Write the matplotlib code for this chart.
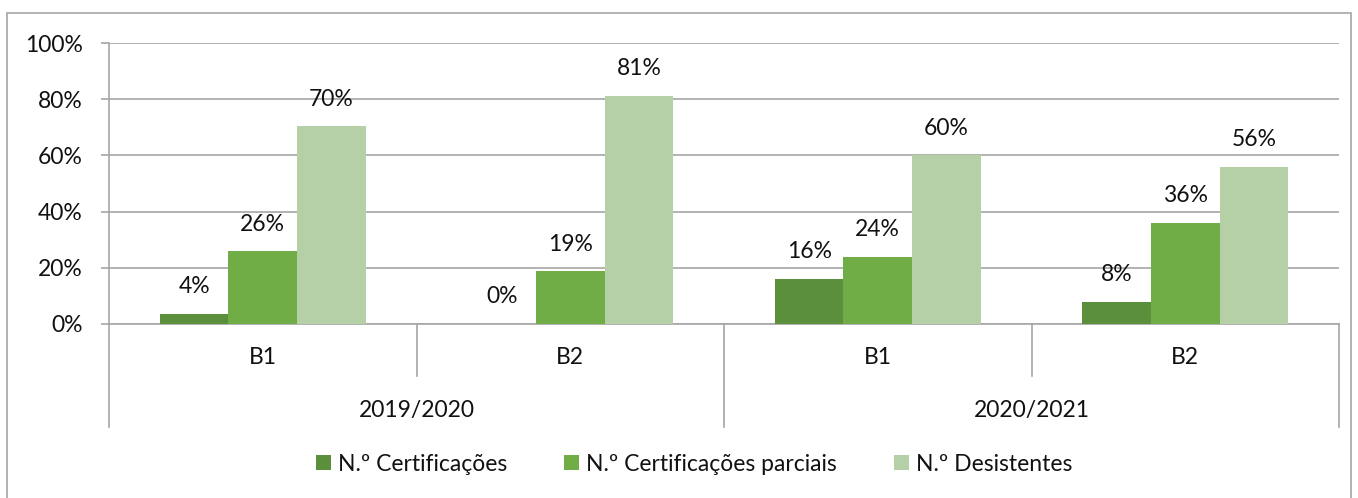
import matplotlib
matplotlib.use("Agg")
import matplotlib.pyplot as plt
from matplotlib.patches import Rectangle, Patch

plt.rcParams['font.family'] = ['Lato', 'DejaVu Sans']

# dados
anos = ["2019/2020", "2020/2021"]
niveis = ["B1", "B2", "B1", "B2"]
series = ["N.º Certificações", "N.º Certificações parciais", "N.º Desistentes"]
certificacoes = [3.7, 0.0, 16.0, 8.0]
parciais = [25.9, 18.75, 24.0, 36.0]
desistentes = [70.4, 81.25, 60.0, 56.0]
cores = ["#5B8F3B", "#70AD47", "#B5CFA7"]

W, H = 1358, 498
fig = plt.figure(figsize=(W / 100, H / 100), dpi=100)
ax = fig.add_axes([109 / W, 1 - 324 / H, (1339 - 109) / W, (324 - 43) / H])

cinza = "#A6A6A6"
texto = "#111111"
fs = 16.5
larg = 0.223
x = list(range(len(niveis)))
for k, (vals, cor) in enumerate(zip([certificacoes, parciais, desistentes], cores)):
    pos = [xi + (k - 1) * larg for xi in x]
    ax.bar(pos, vals, width=larg, color=cor, zorder=3, label=series[k])
    for p, v in zip(pos, vals):
        ax.annotate(f"{v:.0f}%", (p, v), xytext=(0, 19.5), textcoords="offset points",
                    ha="center", va="center", fontsize=fs, color=texto)

ax.set_xlim(-0.5, len(niveis) - 0.5)
ax.set_ylim(0, 100)
ax.set_yticks(range(0, 101, 20))
ax.set_yticklabels([f"{t}%" for t in range(0, 101, 20)])
ax.yaxis.grid(True, color=cinza, linewidth=1.2, zorder=0)
ax.tick_params(axis="y", length=6, width=1.2, color=cinza, pad=13, labelsize=fs,
               labelcolor=texto)
ax.set_xticks([])
for s in ["top", "right"]:
    ax.spines[s].set_visible(False)
ax.spines["left"].set_color(cinza)
ax.spines["bottom"].set_color(cinza)
ax.spines["left"].set_linewidth(1.2)
ax.spines["bottom"].set_linewidth(1.2)

# eixo de categorias em dois níveis
tr = ax.get_xaxis_transform()
h_ax = 324 - 43
for xs in [-0.5, 1.5, 3.5]:
    ax.plot([xs, xs], [0, -(427 - 324) / h_ax], transform=tr, color=cinza,
            linewidth=1.2, clip_on=False)
for xs in [0.5, 2.5]:
    ax.plot([xs, xs], [0, -(376 - 324) / h_ax], transform=tr, color=cinza,
            linewidth=1.2, clip_on=False)
for xi, nv in zip(x, niveis):
    ax.text(xi, -(358 - 324) / h_ax, nv, transform=tr, ha="center", va="center",
            fontsize=fs, color=texto)
for i, ano in enumerate(anos):
    ax.text(2 * i + 0.5, -(410 - 324) / h_ax, ano, transform=tr, ha="center",
            va="center", fontsize=fs, color=texto)

handles = [Patch(facecolor=c, edgecolor="none") for c in cores]
fig.legend(handles, series, loc="center", bbox_to_anchor=(694 / W, 1 - 464 / H),
           ncol=3, frameon=False, fontsize=fs, handlelength=0.65, handleheight=0.65,
           handletextpad=0.3, columnspacing=2.5, labelcolor=texto)

fig.patches.append(Rectangle((7 / W, -0.01), (1351 - 7) / W, 1.01 - 13 / H,
                             transform=fig.transFigure, fill=False,
                             edgecolor=cinza, linewidth=1.2))

fig.savefig("out.png", dpi=100)
